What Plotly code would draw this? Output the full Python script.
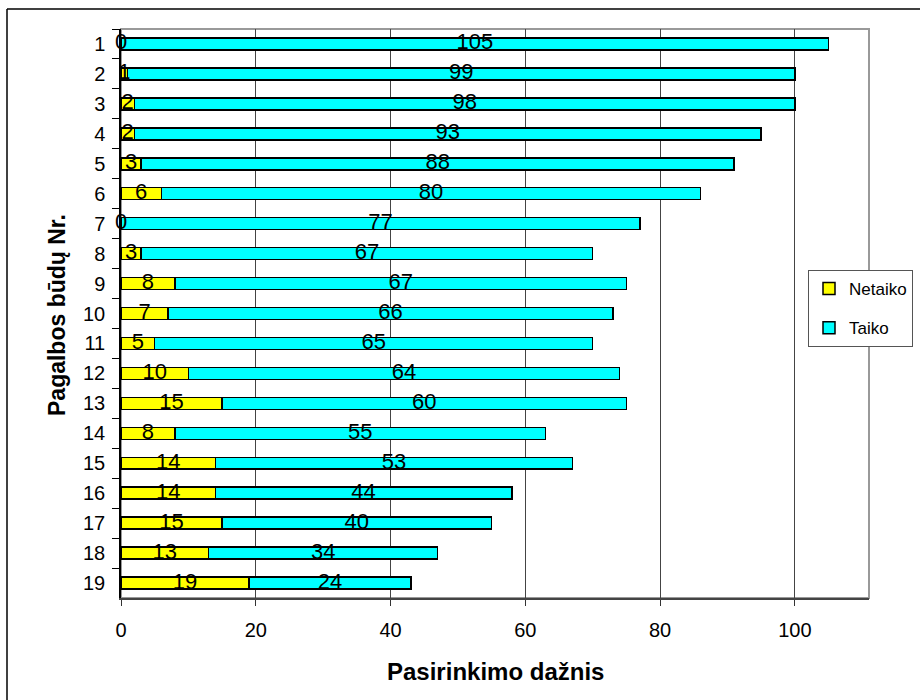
import plotly.graph_objects as go

categories = ["1", "2", "3", "4", "5", "6", "7", "8", "9", "10",
              "11", "12", "13", "14", "15", "16", "17", "18", "19"]
netaiko = [0, 1, 2, 2, 3, 6, 0, 3, 8, 7, 5, 10, 15, 8, 14, 14, 15, 13, 19]
taiko = [105, 99, 98, 93, 88, 80, 77, 67, 67, 66, 65, 64, 60, 55, 53, 44, 40, 34, 24]
x_ticks = [0, 20, 40, 60, 80, 100]

FONT = "Liberation Sans, Arial, sans-serif"

fig = go.Figure()
fig.add_trace(go.Bar(
    y=categories, x=netaiko, orientation="h", name="Netaiko", legendgroup="a",
    marker=dict(color="#FFFF00", line=dict(color="black", width=1.5)),
))
fig.add_trace(go.Bar(
    y=categories, x=taiko, orientation="h", name="Taiko", legendgroup="b",
    marker=dict(color="#00FFFF", line=dict(color="black", width=1.5)),
))

# value labels centred in each segment
lab_x = [n / 2 for n in netaiko] + [n + t / 2 for n, t in zip(netaiko, taiko)]
lab_y = categories + categories
lab_t = [str(v) for v in netaiko] + [str(v) for v in taiko]
fig.add_trace(go.Scatter(
    x=lab_x, y=lab_y, text=lab_t, mode="text", textposition="middle center",
    textfont=dict(family=FONT, size=22, color="black"),
    showlegend=False, hoverinfo="skip", cliponaxis=False,
))

L, R, T, B = 121, 51, 29, 102
W, H = 920, 700
pw, ph = W - L - R, H - T - B

def px(x):
    return (x - L) / pw

def py(y):
    return (H - B - y) / ph

fig.update_layout(
    width=W, height=H,
    margin=dict(l=L, r=R, t=T, b=B, pad=0, autoexpand=False),
    paper_bgcolor="white", plot_bgcolor="white",
    barmode="stack", bargap=0.6,
    font=dict(family=FONT, color="black"),
    showlegend=True,
    legend=dict(
        x=px(808), y=py(270), xanchor="left", yanchor="top",
        bgcolor="white", bordercolor="#555", borderwidth=1,
        font=dict(family=FONT, size=17, color="black"),
        traceorder="grouped", itemwidth=30, tracegroupgap=14,
    ),
    xaxis=dict(
        range=[0, 111], tickvals=x_ticks, ticktext=[str(v) for v in x_ticks],
        showgrid=True, gridcolor="#444", gridwidth=1,
        ticks="outside", ticklen=6, tickcolor="#333", tickwidth=1,
        showline=True, linecolor="#444", linewidth=2,
        tickfont=dict(family=FONT, size=20, color="black"),
        ticklabelstandoff=7, zeroline=False, automargin=False,
    ),
    yaxis=dict(
        type="category", categoryorder="array", categoryarray=categories,
        range=[len(categories) - 0.5, -0.5], showgrid=False,
        ticks="outside", ticklen=7, tickcolor="black", tickwidth=1,
        tickson="boundaries",
        showline=True, linecolor="black", linewidth=1.5,
        tickfont=dict(family=FONT, size=20, color="black"),
        ticklabelstandoff=10, automargin=False,
    ),
    shapes=[
        dict(type="rect", xref="paper", yref="paper", x0=0, x1=1, y0=0, y1=1,
             line=dict(color="#999", width=2), layer="below"),
        dict(type="line", xref="paper", yref="paper", x0=px(7), x1=px(925),
             y0=py(9), y1=py(9), line=dict(color="black", width=1.5)),
        dict(type="line", xref="paper", yref="paper", x0=px(7), x1=px(7),
             y0=py(9), y1=py(705), line=dict(color="black", width=1.5)),
    ],
    annotations=[
        dict(text="<b>Pasirinkimo dažnis</b>", xref="paper", yref="paper",
             x=0.5, y=py(671), xanchor="center", yanchor="middle",
             showarrow=False, font=dict(family=FONT, size=24, color="black")),
        dict(text="<b>Pagalbos būdų Nr.</b>", xref="paper", yref="paper",
             x=px(57), y=py(315), xanchor="center", yanchor="middle",
             textangle=-90, showarrow=False,
             font=dict(family=FONT, size=23, color="black")),
    ],
)

fig.write_html("out.html", config={"displayModeBar": False},
               post_script="document.body.style.margin='0';")
